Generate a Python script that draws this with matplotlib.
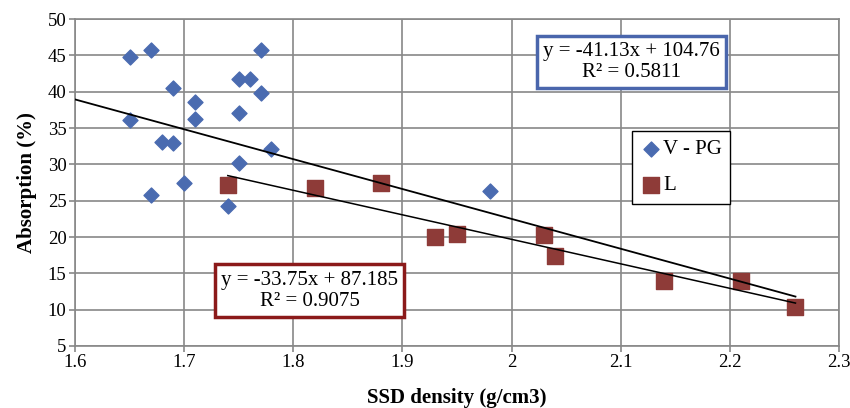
import numpy as np
import matplotlib.pyplot as plt

plt.rcParams['font.family'] = ['Liberation Serif', 'DejaVu Serif']

# V - PG series (diamonds)
vpg_x = [1.65, 1.67, 1.69, 1.65, 1.68, 1.69, 1.67, 1.70, 1.71, 1.71,
         1.75, 1.76, 1.77, 1.77, 1.75, 1.75, 1.78, 1.74, 1.98]
vpg_y = [44.8, 45.7, 40.5, 36.1, 33.1, 32.9, 25.8, 27.4, 38.6, 36.2,
         41.8, 41.8, 45.7, 39.8, 37.1, 30.2, 32.1, 24.3, 26.3]

# L series (squares)
l_x = [1.74, 1.82, 1.88, 1.93, 1.95, 2.03, 2.04, 2.14, 2.21, 2.26]
l_y = [27.1, 26.7, 27.5, 20.0, 20.4, 20.3, 17.4, 13.9, 13.9, 10.4]

# trendline equations shown on the chart
fit_all = (-41.13, 104.76)
fit_l = (-33.75, 87.185)

fig = plt.figure(figsize=(8.5, 4.08), dpi=100)
ax = fig.add_axes([0.0882, 0.152, 0.899, 0.801])

ax.scatter(vpg_x, vpg_y, marker='D', s=58, color='#4A6BB0', label='V - PG', zorder=3)
ax.scatter(l_x, l_y, marker='s', s=130, color='#8E3B38', label='L', zorder=4)

# trendlines
xa = np.array([1.6, max(l_x)])
ax.plot(xa, fit_all[0] * xa + fit_all[1], color='black', lw=1.3, zorder=5)
xl = np.array([min(l_x), max(l_x)])
ax.plot(xl, fit_l[0] * xl + fit_l[1], color='black', lw=1.1, zorder=5)

ax.set_xlim(1.6, 2.3)
ax.set_ylim(5, 50)
ax.set_xticks(np.arange(1.6, 2.31, 0.1))
ax.set_xticklabels(['1.6', '1.7', '1.8', '1.9', '2', '2.1', '2.2', '2.3'])
ax.set_yticks(range(5, 51, 5))
ax.tick_params(labelsize=13.5, color='#888888', length=4, width=1.2, pad=2)
ax.grid(True, color='#888888', lw=1.2)
ax.set_axisbelow(True)
for s in ax.spines.values():
    s.set_color('#888888')
    s.set_linewidth(1.2)

ax.set_xlabel('SSD density (g/cm3)', fontsize=15, fontweight='bold', labelpad=12)
ax.set_ylabel('Absorption (%)', fontsize=15, fontweight='bold', labelpad=8)

ax.text(2.11, 44.1, 'y = -41.13x + 104.76\nR² = 0.5811', fontsize=15,
        ha='center', va='center', linespacing=1.15, zorder=6,
        bbox=dict(boxstyle='square,pad=0.3', fc='white', ec='#4A66AC', lw=2.5))
ax.text(1.815, 12.6, 'y = -33.75x + 87.185\nR² = 0.9075', fontsize=15,
        ha='center', va='center', linespacing=1.15, zorder=6,
        bbox=dict(boxstyle='square,pad=0.3', fc='white', ec='#8B1A1A', lw=2.5))

leg = ax.legend(loc='upper left', bbox_to_anchor=(0.729, 0.657), fontsize=15,
                frameon=True, fancybox=False, edgecolor='black', framealpha=1,
                handletextpad=0.1, handlelength=1.0, labelspacing=0.8,
                borderpad=0.4, borderaxespad=0)
leg.get_frame().set_linewidth(1.0)

plt.savefig('out.png', dpi=100)
